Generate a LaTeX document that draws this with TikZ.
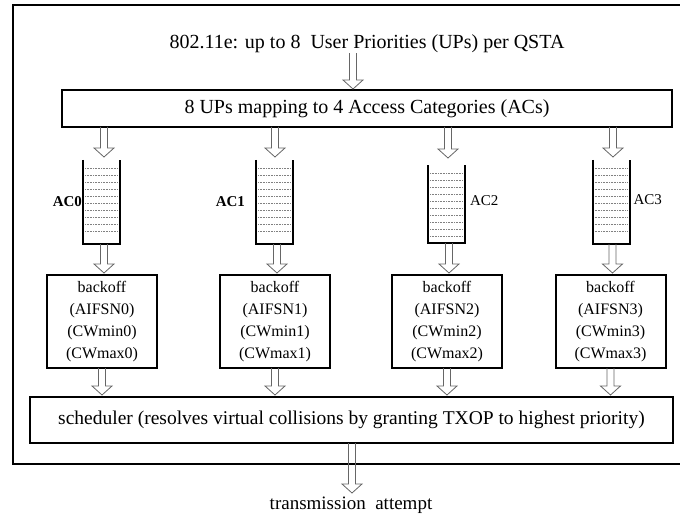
\documentclass[tikz,border=0pt]{standalone}
\usepackage{fontspec}
\setmainfont{Liberation Serif}
\usetikzlibrary{positioning, calc}

% hollow block arrow from the y of #1 down to #2 (x taken from #2)
\newcommand{\blockarrow}[2]{%
  \draw[hollow] let \p1=(#1), \p2=(#2) in
    (\x2-3.5pt,\y1) -- (\x2-3.5pt,\y2+9pt) -- (\x2-10pt,\y2+9pt) -- (\x2,\y2)
    -- (\x2+10pt,\y2+9pt) -- (\x2+3.5pt,\y2+9pt) -- (\x2+3.5pt,\y1);}

\begin{document}
\begin{tikzpicture}[
  x=1pt, y=-1pt,
  every node/.style={inner sep=0pt, outer sep=0pt},
  bigbox/.style={rectangle, draw=black, line width=2pt, font=\fontsize{20}{24}\selectfont},
  backoff/.style={rectangle, draw=black, line width=2pt, minimum width=110pt, minimum height=93pt, align=center, font=\fontsize{16}{22}\selectfont},
  queue/.style={rectangle, minimum width=37pt, minimum height=84pt},
  qwall/.style={line width=2pt, black},
  qslot/.style={densely dotted, gray, line width=0.6pt},
  aclabel/.style={font=\fontsize{15}{18}\selectfont},
  hollow/.style={draw=gray!80!black, line width=0.8pt}
]
\useasboundingbox (0,0) rectangle (680,524);

% Frame
\draw[line width=1.3pt] (690,5) -- (13,5) -- (13,464) -- (690,464);

% Nodes
\node[font=\fontsize{20}{24}\selectfont] (title) at (367,44) {802.11e: up to 8~~User Priorities (UPs) per QSTA};
\node[bigbox, minimum width=610pt, minimum height=37pt] (map) at (367,108.5) {8 UPs mapping to 4 Access Categories (ACs)};

\node[queue] (q0) at (101.5,202) {};
\node[queue] (q1) at (274.5,202) {};
\node[queue, minimum height=78pt] (q2) at (446.5,204) {};
\node[queue] (q3) at (611,202) {};

\foreach \i in {0,...,3} {
  \draw[qwall] (q\i.north west) -- (q\i.south west) -- (q\i.south east) -- (q\i.north east);
  \foreach \k in {0,...,9}
    \draw[qslot] ($(q\i.north west)+(2,8+7*\k)$) -- ($(q\i.north east)+(-2,8+7*\k)$);
}

\node[backoff] (b0) at (102,321.5) {backoff\\(AIFSN0)\\(CWmin0)\\(CWmax0)};
\node[backoff] (b1) at (275,321.5) {backoff\\(AIFSN1)\\(CWmin1)\\(CWmax1)};
\node[backoff] (b2) at (447,321.5) {backoff\\(AIFSN2)\\(CWmin2)\\(CWmax2)};
\node[backoff] (b3) at (610.5,321.5) {backoff\\(AIFSN3)\\(CWmin3)\\(CWmax3)};

\node[bigbox, minimum width=643pt, minimum height=46pt, font=\fontsize{19.5}{24}\selectfont] (sched) at (351.5,420) {scheduler (resolves virtual collisions by granting TXOP to highest priority)};
\node[font=\fontsize{19}{24}\selectfont] (tx) at (351,505) {transmission~~attempt};

% Labels
\node[aclabel, font=\bfseries\fontsize{15}{18}\selectfont, left=1pt of q0] (l0) {AC0};
\node[aclabel, font=\bfseries\fontsize{15}{18}\selectfont, left=11pt of q1] (l1) {AC1};
\node[aclabel, right=5pt of q2, yshift=3pt] (l2) {AC2};
\node[aclabel, right=4pt of q3, yshift=2pt] (l3) {AC3};

% Arrows
\coordinate (t0) at (353,89);
\blockarrow{title.south}{t0}
\blockarrow{map.south}{$(q0.north)+(2.5,-3)$}
\blockarrow{map.south}{$(q1.north)+(0.5,-3)$}
\blockarrow{map.south}{$(q2.north)+(1.5,-7)$}
\blockarrow{map.south}{$(q3.north)+(2,-3)$}
\foreach \i in {0,...,3} {
  \blockarrow{q\i.south}{$(b\i.north)+(2,-2)$}
  \blockarrow{b\i.south}{$(sched.north -| b\i.south)+(0,-2)$}
}
\coordinate (t1) at (352,493);
\blockarrow{sched.south}{t1}

\end{tikzpicture}
\end{document}
